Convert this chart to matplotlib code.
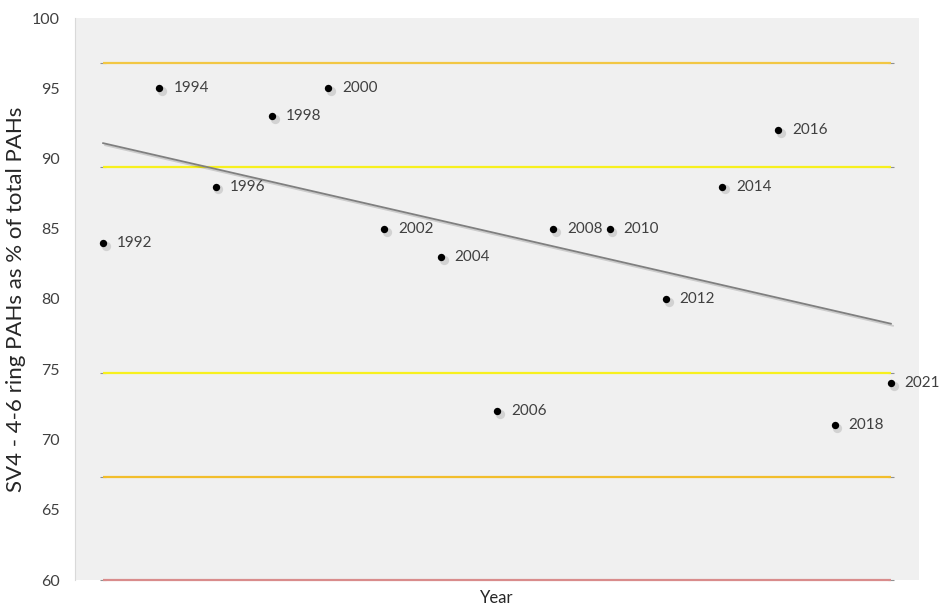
import matplotlib.pyplot as plt
import matplotlib.patheffects as pe
import matplotlib.transforms as mtransforms
import numpy as np

plt.rcParams['font.family'] = ['Lato', 'DejaVu Sans']

years = ["1992", "1994", "1996", "1998", "2000", "2002", "2004", "2006",
         "2008", "2010", "2012", "2014", "2016", "2018", "2021"]
pct = [84, 95, 88, 93, 95, 85, 83, 72, 85, 85, 80, 88, 92, 71, 74]

# threshold levels and their colours
levels = [96.8, 89.4, 74.7, 67.3, 60.0]
level_colors = ["#F2C744", "#F7F01E", "#F7F01E", "#F2BE2C", "#D98C8C"]

x = np.arange(len(years))

fig = plt.figure(figsize=(9.39, 6.10), dpi=100)
ax = fig.add_axes([75/939, 30/610, (919-75)/939, (580-18)/610])
ax.set_facecolor("#F0F0F0")

for lv, c in zip(levels, level_colors):
    ax.plot([x[0], x[-1]], [lv, lv], color=c, lw=1.6, zorder=2,
            solid_capstyle="butt", clip_on=False)
    ax.plot([x[0], x[-1]], [lv, lv], ls="none", marker="_", ms=5,
            mew=0.8, color="#909090", zorder=1.5, clip_on=False)

# linear trend
k, b = np.polyfit(x, pct, 1)
ax.plot(x[[0, -1]], k * x[[0, -1]] + b, color="#7F7F7F", lw=1.3, zorder=3,
        path_effects=[pe.SimpleLineShadow(offset=(1.5, -1.5), alpha=0.15),
                      pe.Normal()])

# points with a soft drop shadow
shift = mtransforms.ScaledTranslation(2/72, -2/72, fig.dpi_scale_trans)
ax.scatter(x, pct, s=45, color="#000000", alpha=0.12, zorder=3.5,
           linewidths=0, transform=ax.transData + shift)
ax.scatter(x, pct, s=28, color="black", zorder=4, linewidths=0)

for xi, yi, lab in zip(x, pct, years):
    ax.annotate(lab, (xi, yi), xytext=(10, 0), textcoords="offset points",
                va="center", ha="left", fontsize=11, color="#404040",
                zorder=5)

ax.set_xlim(-0.5, len(years) - 0.5)
ax.set_ylim(60, 100)
ax.set_yticks(range(60, 101, 5))
ax.set_xticks([])
ax.tick_params(axis="y", length=0, labelsize=11.5, labelcolor="#404040", pad=11)

for side in ["top", "right", "bottom"]:
    ax.spines[side].set_visible(False)
ax.spines["left"].set_color("#D9D9D9")

ax.set_ylabel("SV4 - 4-6 ring PAHs as % of total PAHs", fontsize=16,
              color="#262626", labelpad=4)
ax.set_xlabel("Year", fontsize=12, color="#262626", labelpad=7)

fig.savefig("out.png", dpi=100, facecolor="white")
